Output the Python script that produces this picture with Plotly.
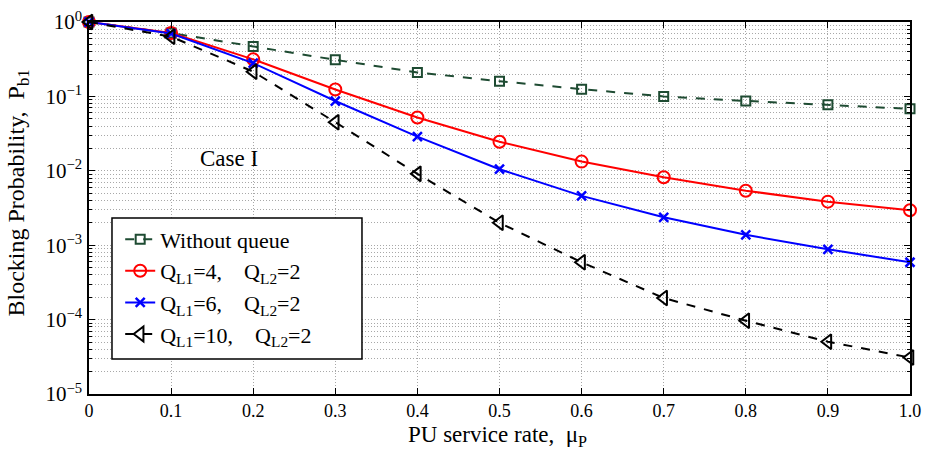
import plotly.graph_objects as go

x = [0, 0.1, 0.2, 0.3, 0.4, 0.5, 0.6, 0.7, 0.8, 0.9, 1.0]
without_queue = [1.0, 0.71, 0.47, 0.31, 0.21, 0.16, 0.125, 0.10, 0.087, 0.077, 0.068]
q4 = [1.0, 0.71, 0.315, 0.124, 0.052, 0.0246, 0.0133, 0.0082, 0.0054, 0.00385, 0.00295]
q6 = [1.0, 0.70, 0.28, 0.0867, 0.0288, 0.0105, 0.0046, 0.00237, 0.00138, 0.00088, 0.00059]
q10 = [1.0, 0.635, 0.215, 0.045, 0.0091, 0.0020, 0.00059, 0.000195, 0.0000966, 0.0000505, 0.0000309]

x_ticks = [0, 0.1, 0.2, 0.3, 0.4, 0.5, 0.6, 0.7, 0.8, 0.9, 1.0]
x_ticktext = ["0", "0.1", "0.2", "0.3", "0.4", "0.5", "0.6", "0.7", "0.8", "0.9", "1.0"]
y_ticks = [1, 1e-1, 1e-2, 1e-3, 1e-4, 1e-5]
y_ticktext = ["10<sup>0</sup>", "10<sup>\u22121</sup>", "10<sup>\u22122</sup>",
              "10<sup>\u22123</sup>", "10<sup>\u22124</sup>", "10<sup>\u22125</sup>"]

sp = "\u00a0"
names = [
    "Without queue",
    f"Q<sub>L1</sub>=4,{sp*4}Q<sub>L2</sub>=2",
    f"Q<sub>L1</sub>=6,{sp*4}Q<sub>L2</sub>=2",
    f"Q<sub>L1</sub>=10,{sp*4}Q<sub>L2</sub>=2",
]

FONT = "Liberation Serif, Times New Roman, serif"
GRID = "#a8a8a8"
DOT = "1px,2px"

fig = go.Figure()
fig.add_trace(go.Scatter(x=x, y=without_queue, name=names[0], mode="lines+markers",
                         line=dict(color="#1E4B32", width=2, dash="dash"),
                         marker=dict(symbol="square-open", size=9, color="#1E4B32", line=dict(width=2)),
                         cliponaxis=False))
fig.add_trace(go.Scatter(x=x, y=q4, name=names[1], mode="lines+markers",
                         line=dict(color="#FF0000", width=2),
                         marker=dict(symbol="circle-open", size=12, color="#FF0000", line=dict(width=2)),
                         cliponaxis=False))
fig.add_trace(go.Scatter(x=x, y=q6, name=names[2], mode="lines+markers",
                         line=dict(color="#0000FF", width=2),
                         marker=dict(symbol="x-thin-open", size=9, color="#0000FF", line=dict(width=2.5, color="#0000FF")),
                         cliponaxis=False))
fig.add_trace(go.Scatter(x=x, y=q10, name=names[3], mode="lines+markers",
                         line=dict(color="#000000", width=2, dash="dash"),
                         marker=dict(symbol="triangle-left-open", size=13, color="#000000", line=dict(width=2)),
                         cliponaxis=False))

fig.add_annotation(x=0.171, y=-1.83, xref="x", yref="y", text="Case I", showarrow=False,
                   font=dict(family=FONT, size=23, color="black"))

# axis titles placed as annotations so that margins stay fixed
fig.add_annotation(x=0.497, y=-0.072, xref="paper", yref="paper", text="PU service rate,  \u03bc<sub>P</sub>",
                   showarrow=False, xanchor="center", yanchor="top", borderpad=0,
                   font=dict(family=FONT, size=23, color="black"))
fig.add_annotation(x=-0.086, y=0.54, xref="paper", yref="paper", text="Blocking Probability,  P<sub>b1</sub>",
                   showarrow=False, textangle=-90, xanchor="center", yanchor="middle",
                   font=dict(family=FONT, size=24, color="black"))

# legend frame
fig.add_shape(type="rect", xref="paper", yref="paper", x0=0.028, x1=0.3325, y0=0.094, y1=0.473,
              line=dict(color="black", width=1.5), fillcolor="white", layer="above")

axis_common = dict(showline=True, linecolor="black", linewidth=1.5, mirror="ticks",
                   ticks="inside", ticklen=6, tickcolor="black", tickwidth=1,
                   showgrid=True, gridcolor=GRID, griddash=DOT, gridwidth=1,
                   zeroline=False, automargin=False)

fig.update_xaxes(range=[0, 1], tickvals=x_ticks, ticktext=x_ticktext,
                 tickfont=dict(family=FONT, size=18, color="black"), ticklabelstandoff=0,
                 **axis_common)
fig.update_yaxes(type="log", range=[-5, 0], tickvals=y_ticks, ticktext=y_ticktext,
                 tickfont=dict(family=FONT, size=21, color="black"), ticklabelstandoff=1,
                 minor=dict(dtick="D1", showgrid=True, gridcolor=GRID, griddash=DOT, gridwidth=1,
                            ticks="inside", ticklen=3, tickcolor="black"),
                 **axis_common)

fig.update_layout(width=927, height=451,
                  margin=dict(l=89, r=17, t=22, b=57, autoexpand=False),
                  paper_bgcolor="white", plot_bgcolor="white",
                  font=dict(family=FONT, size=20, color="black"),
                  legend=dict(x=0.038, y=0.472, xanchor="left", yanchor="top",
                              bgcolor="rgba(0,0,0,0)", borderwidth=0,
                              font=dict(family=FONT, size=22, color="black"),
                              tracegroupgap=0, itemwidth=30),
                  showlegend=True)

fig.write_html("out.html", config={"displayModeBar": False},
               post_script="document.body.style.margin='0';document.body.style.overflow='hidden';")
